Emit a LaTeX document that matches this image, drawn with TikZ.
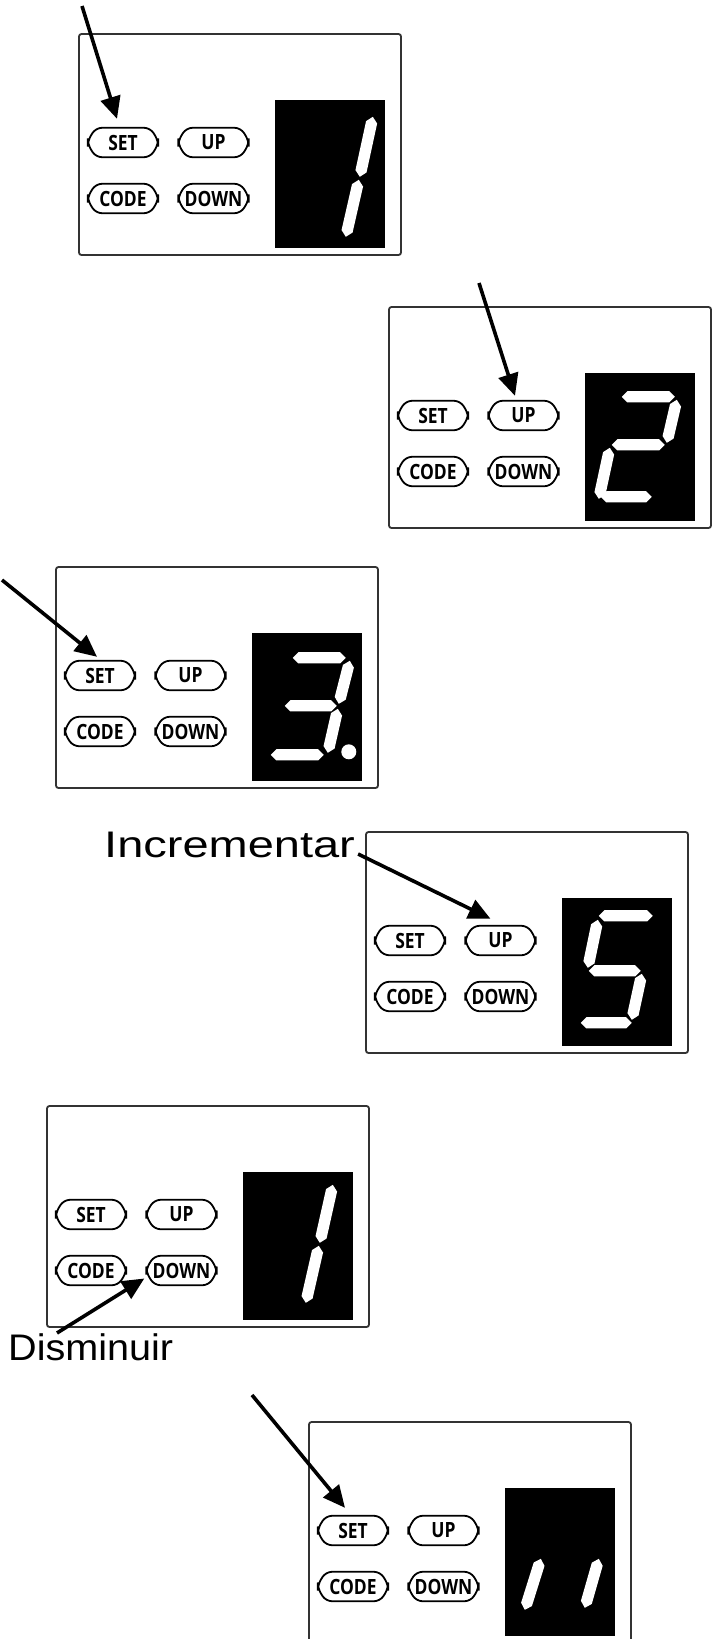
\documentclass[tikz,border=0pt]{standalone}
\usepackage{fontspec}
\usetikzlibrary{arrows.meta,calc}
\newfontfamily\btnfont[FakeStretch=0.83]{Open Sans}
\newfontfamily\incfont[FakeStretch=1.27]{Liberation Sans}
\newfontfamily\disfont[FakeStretch=1.07]{Liberation Sans}
\tikzset{
  panelbox/.style={draw=black!80, line width=1.8pt, rounded corners=2.5pt, fill=white,
    minimum width=322pt, minimum height=221pt, inner sep=0pt},
  btntext/.style={minimum width=70pt, minimum height=29pt, inner sep=0pt,
    font={\btnfont\fontsize{21pt}{22pt}\selectfont\bfseries}},
  btnline/.style={line width=1.8pt, rounded corners=6pt},
  disp/.style={fill=black, minimum width=110pt, minimum height=148pt, inner sep=0pt},
  segfill/.style={fill=white},
  lbl/.style={inner sep=0pt},
  arr/.style={line width=3.6pt, -{Triangle[length=22pt,width=20pt]}}
}
\newcommand\mybtn[3]{%
  \node[btntext] (#1) at #2 {#3};
  \draw[btnline] ([xshift=8pt]#1.north west) -- ([xshift=-8pt]#1.north east)
    -- ([yshift=2pt]#1.east) -- ([yshift=-2pt]#1.east)
    -- ([xshift=-8pt]#1.south east) -- ([xshift=8pt]#1.south west)
    -- ([yshift=-2pt]#1.west) -- ([yshift=2pt]#1.west) -- cycle;}
\newcommand\mypanel[3]{%
  \begin{scope}[shift={(#2,#3)}]
    \node[panelbox] (p#1) at (161,110.5) {};
    \mybtn{set#1}{(44,108.5)}{SET}
    \mybtn{up#1}{(134.5,108.5)}{UP}
    \mybtn{code#1}{(44,164.5)}{CODE}
    \mybtn{down#1}{(134.5,164.5)}{DOWN}
    \node[disp] (d#1) at (251,140) {};
  \end{scope}}
\newcommand\dseg[2]{%
  \coordinate (sA) at #1; \coordinate (sB) at #2;
  \fill[segfill] (sA) -- ($(sA)!8pt!45:(sB)$) -- ($(sB)!8pt!-45:(sA)$) -- (sB)
    -- ($(sB)!8pt!45:(sA)$) -- ($(sA)!8pt!-45:(sB)$) -- cycle;}
\begin{document}
\begin{tikzpicture}[x=1pt,y=-1pt]
\fill[white] (0,0) rectangle (712,1639);
\useasboundingbox (0,0) rectangle (712,1639);

\mypanel{1}{79}{34}
\mypanel{2}{389}{307}
\mypanel{3}{56}{567}
\mypanel{4}{366}{832}
\mypanel{5}{47}{1106}
\mypanel{6}{309}{1422}

% digits
\begin{scope}[shift={(d1.north west)}]
  \dseg{(98,17)}{(85,77)} \dseg{(84,80)}{(71,137)}
\end{scope}
\begin{scope}[shift={(d2.north west)}]
  \dseg{(37,24)}{(90,24)} \dseg{(92,27)}{(82,70)} \dseg{(27,72)}{(80,72)}
  \dseg{(25,75)}{(14,126)} \dseg{(16,124)}{(67,124)}
\end{scope}
\begin{scope}[shift={(d3.north west)}]
  \dseg{(41,25)}{(94,25)} \dseg{(98,28)}{(87,71)} \dseg{(33,73)}{(85,73)}
  \dseg{(86,76)}{(76,120)} \dseg{(19,122)}{(72,122)}
  \fill[segfill] (97,119) circle (7.5pt);
\end{scope}
\begin{scope}[shift={(d4.north west)}]
  \dseg{(37,18)}{(91,18)} \dseg{(36,22)}{(26,70)} \dseg{(27,73)}{(79,73)}
  \dseg{(80,76)}{(70,122)} \dseg{(19,125)}{(70,125)}
\end{scope}
\begin{scope}[shift={(d5.north west)}]
  \dseg{(90,13)}{(77,71)} \dseg{(76,74)}{(63,131)}
\end{scope}
\begin{scope}[shift={(d6.north west)}]
  \dseg{(36,71)}{(20,122)} \dseg{(94,71)}{(80,120)}
\end{scope}

% labels
\node[lbl, anchor=base west, font={\incfont\fontsize{37pt}{40pt}\selectfont}] (inc) at (104,857) {Incrementar};
\node[lbl, anchor=base west, font={\disfont\fontsize{37pt}{40pt}\selectfont}] (dis) at (8,1360) {Disminuir};

% arrows
\coordinate (a1) at (82,6);
\coordinate (a2) at (479,283);
\coordinate (a3) at (2,580);
\coordinate (a5) at (57,1333);
\coordinate (a6) at (252,1395);
\draw[arr] (a1) -- ([shift={(-6,-9)}]set1.north);
\draw[arr] (a2) -- ([shift={(-8.5,-5)}]up2.north);
\draw[arr] (a3) -- ([shift={(-3,-4)}]set3.north);
\draw[arr] ([shift={(3,-3)}]inc.base east) -- ([shift={(-10,-7)}]up4.north);
\draw[arr] (a5) -- ([shift={(-2,8)}]down5.west);
\draw[arr] (a6) -- ([shift={(-8,-8)}]set6.north);
\end{tikzpicture}
\end{document}
